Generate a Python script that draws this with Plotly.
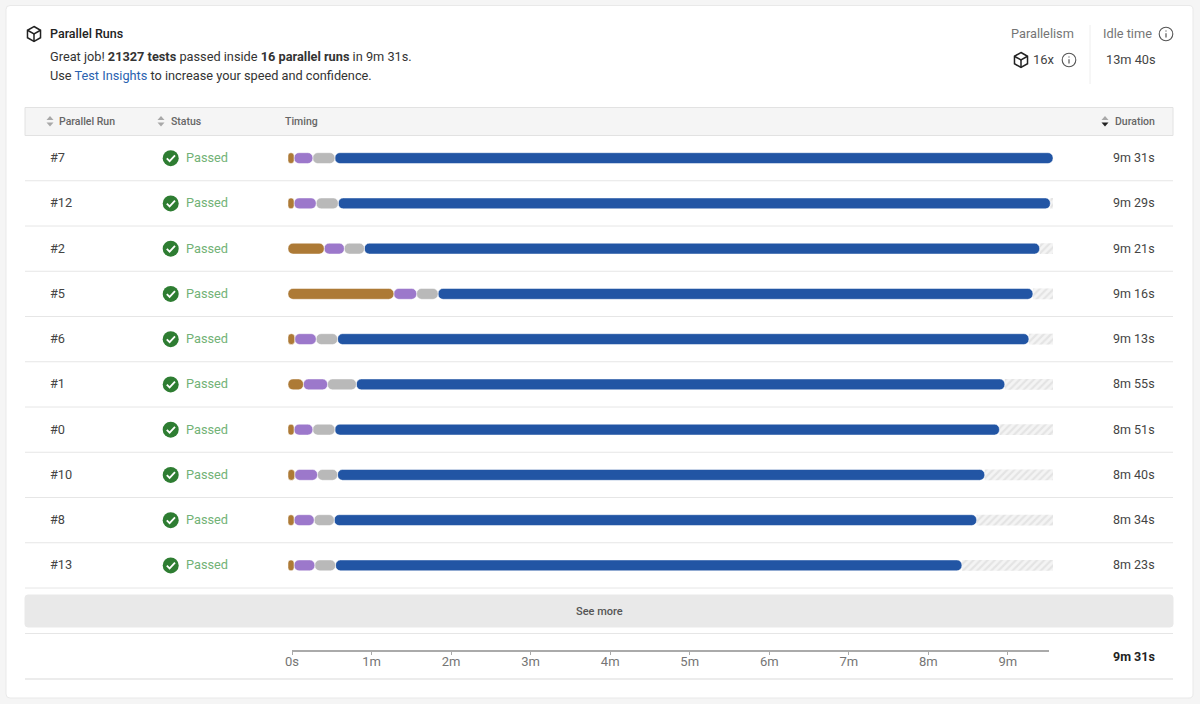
import plotly.graph_objects as go

W, H = 1200, 704

runs = ["#7", "#12", "#2", "#5", "#6", "#1", "#0", "#10", "#8", "#13"]
statuses = ["Passed"] * 10
durations = ["9m 31s", "9m 29s", "9m 21s", "9m 16s", "9m 13s", "8m 55s", "8m 51s", "8m 40s", "8m 34s", "8m 23s"]

# seconds spent in each phase of a run
orange_s = [4.5, 4.5, 27, 79, 5, 11.5, 4.5, 5, 4.5, 4.5]
purple_s = [14, 16.5, 15, 17, 16, 18, 14, 17, 15, 15.5]
grey_s = [16.5, 16.5, 15, 16, 16, 21.5, 16.5, 15, 15, 15.5]
blue_s = [536, 531.5, 504, 444, 516, 484, 496, 483, 479.5, 467.5]
longest_s = 571

tick_seconds = [0, 60, 120, 180, 240, 300, 360, 420, 480, 540]
tick_labels = ["0s", "1m", "2m", "3m", "4m", "5m", "6m", "7m", "8m", "9m"]

FONT = "Roboto"
ROW_TOP, ROW_H = 135.5, 45.25
BAR_W = 0.24


def px(x):
    return x / W


def py(y):
    return 1 - y / H


def path(*points, close=False):
    d = "M" + " L".join(f"{px(x):.5f},{py(y):.5f}" for x, y in points)
    return d + (" Z" if close else "")


shapes = []
annotations = []


def rect(x0, y0, x1, y1, fill, line=None):
    shapes.append(dict(type="rect", xref="paper", yref="paper", x0=px(x0), x1=px(x1), y0=py(y0), y1=py(y1),
                       fillcolor=fill, line=dict(color=line or fill, width=1 if line else 0), layer="below"))


def hline(y, x0=25, x1=1173, color="#e6e6e6", width=1):
    shapes.append(dict(type="line", xref="paper", yref="paper", x0=px(x0), x1=px(x1), y0=py(y), y1=py(y),
                       line=dict(color=color, width=width), layer="below"))


def rounded(x0, y0, x1, y1, r, fill, line):
    d = (f"M{px(x0 + r):.5f},{py(y0):.5f} L{px(x1 - r):.5f},{py(y0):.5f} "
         f"Q{px(x1):.5f},{py(y0):.5f} {px(x1):.5f},{py(y0 + r):.5f} "
         f"L{px(x1):.5f},{py(y1 - r):.5f} Q{px(x1):.5f},{py(y1):.5f} {px(x1 - r):.5f},{py(y1):.5f} "
         f"L{px(x0 + r):.5f},{py(y1):.5f} Q{px(x0):.5f},{py(y1):.5f} {px(x0):.5f},{py(y1 - r):.5f} "
         f"L{px(x0):.5f},{py(y0 + r):.5f} Q{px(x0):.5f},{py(y0):.5f} {px(x0 + r):.5f},{py(y0):.5f} Z")
    shapes.append(dict(type="path", xref="paper", yref="paper", path=d, fillcolor=fill,
                       line=dict(color=line, width=1), layer="below"))


def text(x, y, s, size=13, color="#333333", anchor="left", weight=None):
    annotations.append(dict(xref="paper", yref="paper", x=px(x), y=py(y), text=s, showarrow=False,
                            xanchor=anchor, yanchor="middle", borderpad=0, borderwidth=0,
                            font=dict(family=FONT, size=size, color=color, weight=weight)))


def cube(cx, cy, color="#222222"):
    r = 7.5
    hx = r * 0.87
    outline = [(cx, cy - r), (cx + hx, cy - r / 2), (cx + hx, cy + r / 2), (cx, cy + r), (cx - hx, cy + r / 2), (cx - hx, cy - r / 2)]
    shapes.append(dict(type="path", xref="paper", yref="paper", path=path(*outline, close=True),
                       line=dict(color=color, width=1.5), layer="above"))
    shapes.append(dict(type="path", xref="paper", yref="paper",
                       path=path((cx - hx, cy - r / 2), (cx, cy), (cx + hx, cy - r / 2)),
                       line=dict(color=color, width=1.5), layer="above"))
    shapes.append(dict(type="line", xref="paper", yref="paper", x0=px(cx), x1=px(cx), y0=py(cy), y1=py(cy + r),
                       line=dict(color=color, width=1.5), layer="above"))


def info(cx, cy):
    r = 6.8
    shapes.append(dict(type="circle", xref="paper", yref="paper", x0=px(cx - r), x1=px(cx + r), y0=py(cy - r), y1=py(cy + r),
                       line=dict(color="#555555", width=1.1), layer="above"))
    shapes.append(dict(type="line", xref="paper", yref="paper", x0=px(cx), x1=px(cx), y0=py(cy - 0.8), y1=py(cy + 3.6),
                       line=dict(color="#555555", width=1.2), layer="above"))
    shapes.append(dict(type="line", xref="paper", yref="paper", x0=px(cx), x1=px(cx), y0=py(cy - 3.6), y1=py(cy - 2.4),
                       line=dict(color="#555555", width=1.2), layer="above"))


def sort_arrows(cx, cy, up="#a8a8a8", down="#a8a8a8"):
    shapes.append(dict(type="path", xref="paper", yref="paper", path=path((cx - 3.5, cy - 1), (cx + 3.5, cy - 1), (cx, cy - 5), close=True),
                       fillcolor=up, line=dict(width=0), layer="above"))
    shapes.append(dict(type="path", xref="paper", yref="paper", path=path((cx - 3.5, cy + 1.5), (cx + 3.5, cy + 1.5), (cx, cy + 5.5), close=True),
                       fillcolor=down, line=dict(width=0), layer="above"))


# card and table chrome
rounded(6, 5.5, 1193, 698, 4, "#ffffff", "#e9e9e9")
rect(25, 107.5, 1173, 135.5, "#f5f5f5", "#e2e2e2")
for i in range(1, 11):
    hline(ROW_TOP + ROW_H * i)
rounded(25, 595, 1173, 627, 3, "#e9e9e9", "#e9e9e9")
hline(633.5)
hline(679, width=1.5)
shapes.append(dict(type="line", xref="paper", yref="paper", x0=px(1090), x1=px(1090), y0=py(25), y1=py(84),
                   line=dict(color="#eeeeee", width=1), layer="below"))

# header texts
cube(34, 34)
text(50, 33.5, "Parallel Runs", size=12.5, color="#222222", weight=500)
text(50, 56, "Great job! <b>21327 tests</b> passed inside <b>16 parallel runs</b> in 9m 31s.", size=12.75, color="#333333")
text(50, 75, "Use <span style='color:#2a62b0'>Test Insights</span> to increase your speed and confidence.", size=12.75, color="#333333")
text(1042.5, 33.5, "Parallelism", size=12.75, color="#757575", anchor="center")
cube(1021, 60)
text(1044, 59.5, "16x", size=13, color="#444444", anchor="center")
info(1069, 60)
text(1127, 33.5, "Idle time", size=12.75, color="#757575", anchor="center")
info(1166, 34)
text(1130.5, 59.5, "13m 40s", size=12.75, color="#444444", anchor="center")

# table header
text(59, 121.5, "Parallel Run", size=10.5, color="#666666", weight=500)
sort_arrows(50, 121)
text(171, 121.5, "Status", size=10.5, color="#666666", weight=500)
sort_arrows(161, 121)
text(285, 121.5, "Timing", size=10.5, color="#666666", weight=500)
text(1115, 121.5, "Duration", size=10.5, color="#666666", weight=500)
sort_arrows(1105, 121, down="#222222")
text(599, 611, "See more", size=11, color="#555555", anchor="center", weight=500)
text(1154.5, 656, "9m 31s", size=12.5, color="#222222", anchor="right", weight=700)

# table rows
for i, run in enumerate(runs):
    cy = ROW_TOP + ROW_H * (i + 0.5)
    text(50, cy - 0.4, run, size=12.75, color="#444444")
    shapes.append(dict(type="circle", xref="paper", yref="paper", x0=px(162.7), x1=px(178.7), y0=py(cy - 8), y1=py(cy + 8),
                       fillcolor="#2e7d32", line=dict(width=0), layer="above"))
    shapes.append(dict(type="path", xref="paper", yref="paper",
                       path=path((166.8, cy + 0.2), (169.6, cy + 3), (175, cy - 2.8)),
                       line=dict(color="#ffffff", width=1.8), layer="above"))
    text(186.3, cy - 0.4, statuses[i], size=12.75, color="#72b276")
    text(1154.5, cy - 0.4, durations[i], size=12.5, color="#444444", anchor="right")

# each phase starts where the previous one ended
orange_end = orange_s
purple_end = [a + b for a, b in zip(orange_end, purple_s)]
grey_end = [a + b for a, b in zip(purple_end, grey_s)]
blue_end = [a + b for a, b in zip(grey_end, blue_s)]
idle_s = [longest_s - v for v in blue_end]

fig = go.Figure()

fig.add_trace(go.Bar(y=runs, x=idle_s, base=blue_end, orientation="h", width=BAR_W,
                     marker=dict(color="#ffffff", line=dict(width=0),
                                 pattern=dict(shape="/", fgcolor="#d4d4d4", bgcolor="#f4f4f4", size=5, solidity=0.45))))
for name, values, bases, color in [
    ("Tests", blue_s, grey_end, "#2255a4"),
    ("Setup", grey_s, purple_end, "#b9b9b9"),
    ("Restore", purple_s, orange_end, "#9c78cb"),
    ("Checkout", orange_s, [0] * len(runs), "#ad7a36"),
]:
    fig.add_trace(go.Bar(y=runs, x=values, base=bases, orientation="h", width=BAR_W, name=name,
                         marker=dict(color=color, cornerradius=5, line=dict(color="#ffffff", width=0.5))))

# invisible trace so the time ruler gets drawn
fig.add_trace(go.Scatter(x=[0, longest_s], y=[0, 0], xaxis="x2", yaxis="y2", mode="markers",
                         marker=dict(opacity=0), hoverinfo="skip"))

fig.update_layout(
    width=W, height=H, margin=dict(l=0, r=0, t=0, b=0, autoexpand=False), autosize=False,
    paper_bgcolor="#f5f5f5", plot_bgcolor="rgba(0,0,0,0)",
    barmode="overlay", showlegend=False, font=dict(family=FONT),
    shapes=shapes, annotations=annotations,
    xaxis=dict(domain=[px(288), px(1053)], range=[0, longest_s], visible=False, fixedrange=True, automargin=False),
    yaxis=dict(domain=[py(ROW_TOP + ROW_H * 10), py(ROW_TOP)], categoryorder="array", categoryarray=runs,
               autorange="reversed", visible=False, fixedrange=True, automargin=False),
    xaxis2=dict(domain=[px(292), px(1049)], range=[0, longest_s], anchor="y2", showgrid=False, zeroline=False,
                showline=True, linecolor="#aaaaaa", linewidth=1.5, ticks="outside", tickcolor="#aaaaaa",
                ticklen=4, tickwidth=1, tickvals=tick_seconds, ticktext=tick_labels, automargin=False,
                ticklabelstandoff=-5,
                tickfont=dict(family=FONT, size=13, color="#757575"), fixedrange=True),
    yaxis2=dict(domain=[py(649.5), py(645)], range=[0, 1], visible=False, fixedrange=True, automargin=False),
)

fig.write_html("out.html", config={"displayModeBar": False}, post_script="document.body.style.margin='0';")
